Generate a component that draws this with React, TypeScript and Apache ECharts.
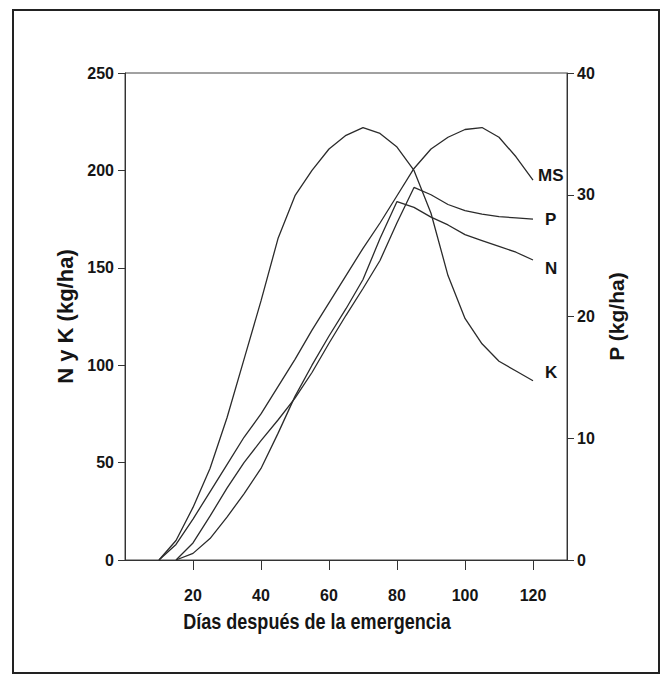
import React, { useEffect, useRef } from "react";
import * as echarts from "echarts";

// Días después de la emergencia
const days = [10, 15, 20, 25, 30, 35, 40, 45, 50, 55, 60, 65, 70, 75, 80, 85, 90, 95, 100, 105, 110, 115, 120];
// Materia seca (escala izquierda)
const msValues = [0, 8, 21, 35, 49, 63, 75, 89, 103, 118, 132, 146, 160, 173, 187, 201, 211, 217, 221, 222, 217, 207, 195];
// Potasio (kg/ha, escala izquierda)
const kValues = [0, 10, 27, 47, 73, 103, 133, 165, 187, 200, 211, 218, 222, 219, 212, 200, 178, 146, 124, 111, 102, 97, 92];
// Nitrógeno (kg/ha, escala izquierda)
const nValues = [null, 0, 3.4, 11, 22, 34, 47, 65, 84, 100, 115, 129, 144, 165, 184, 181, 176, 172, 167, 164, 161, 158, 154];
// Fósforo (kg/ha, escala derecha)
const pValues = [null, 0, 1.4, 3.6, 5.9, 8.0, 9.8, 11.5, 13.3, 15.4, 17.8, 20.1, 22.3, 24.6, 27.7, 30.6, 30.0, 29.2, 28.7, 28.4, 28.2, 28.1, 28.0];

const xTickValues = [20, 40, 60, 80, 100, 120];

const FONT = "'Liberation Sans', Arial, sans-serif";
const INK = "#151515";
const LINE = "#2b2b2b";

function pairs(vals: (number | null)[]) {
  return days.map((d, i) => [d, vals[i]]);
}

function lineSeries(name: string, vals: (number | null)[], axis: number, label: string, offset: number[]) {
  return {
    name,
    type: "line",
    yAxisIndex: axis,
    data: pairs(vals),
    symbol: "none",
    smooth: false,
    lineStyle: { color: LINE, width: 1.3 },
    endLabel: {
      show: true,
      formatter: label,
      distance: 5,
      offset,
      fontSize: 17,
      fontWeight: "bold",
      fontFamily: FONT,
      color: INK,
    },
  };
}

export default function App() {
  const ref = useRef<HTMLDivElement>(null);
  useEffect(() => {
    if (!ref.current) return;
    const chart = echarts.init(ref.current, undefined, { renderer: "svg" });
    const axisLabelStyle = { fontSize: 16, fontWeight: "bold", fontFamily: FONT, color: INK };
    chart.setOption({
      animation: false,
      backgroundColor: "#ffffff",
      grid: { left: 125, right: 99, top: 73, bottom: 116, show: true, borderColor: "#444", borderWidth: 1 },
      xAxis: {
        type: "value",
        min: 0,
        max: 130,
        interval: 20,
        axisLine: { show: true, lineStyle: { color: "#333", width: 1 } },
        axisTick: { show: true, length: 10, customValues: xTickValues, lineStyle: { color: "#333" } },
        axisLabel: { ...axisLabelStyle, margin: 27, customValues: xTickValues },
        splitLine: { show: false },
      },
      yAxis: [
        {
          type: "value",
          min: 0,
          max: 250,
          interval: 50,
          position: "left",
          name: "N y K (kg/ha)",
          nameLocation: "middle",
          nameRotate: 90,
          nameGap: 49,
          nameTextStyle: { fontSize: 22, fontWeight: "bold", fontFamily: FONT, color: INK },
          axisLine: { show: true, lineStyle: { color: "#333", width: 1 } },
          axisTick: { show: true, length: 7, lineStyle: { color: "#333" } },
          axisLabel: { ...axisLabelStyle, margin: 11 },
          splitLine: { show: false },
        },
        {
          type: "value",
          min: 0,
          max: 40,
          interval: 10,
          position: "right",
          name: "P (kg/ha)",
          nameLocation: "middle",
          nameRotate: 90,
          nameGap: 39,
          nameTextStyle: { fontSize: 21, fontWeight: "bold", fontFamily: FONT, color: INK },
          axisLine: { show: true, lineStyle: { color: "#333", width: 1 } },
          axisTick: { show: true, length: 7, lineStyle: { color: "#333" } },
          axisLabel: { ...axisLabelStyle, margin: 10 },
          splitLine: { show: false },
        },
      ],
      graphic: [
        {
          type: "rect",
          silent: true,
          shape: { x: 13, y: 10, width: 646, height: 663 },
          style: { fill: "none", stroke: "#222", lineWidth: 2 },
        },
        {
          type: "text",
          silent: true,
          x: 317,
          y: 621,
          scaleX: 0.82,
          style: {
            text: "Días después de la emergencia",
            fontSize: 22,
            fontWeight: "bold",
            fontFamily: FONT,
            fill: INK,
            align: "center",
            verticalAlign: "middle",
          },
        },
      ],
      series: [
        lineSeries("MS", msValues, 0, "MS", [0, -5]),
        lineSeries("K", kValues, 0, "K", [7, -8]),
        lineSeries("N", nValues, 0, "N", [7, 8]),
        lineSeries("P", pValues, 1, "P", [7, 0]),
      ],
    });
    return () => chart.dispose();
  }, []);
  return (
    <div
      ref={ref}
      style={{ position: "absolute", left: 0, top: 0, width: 666, height: 676, background: "#fff" }}
    />
  );
}
